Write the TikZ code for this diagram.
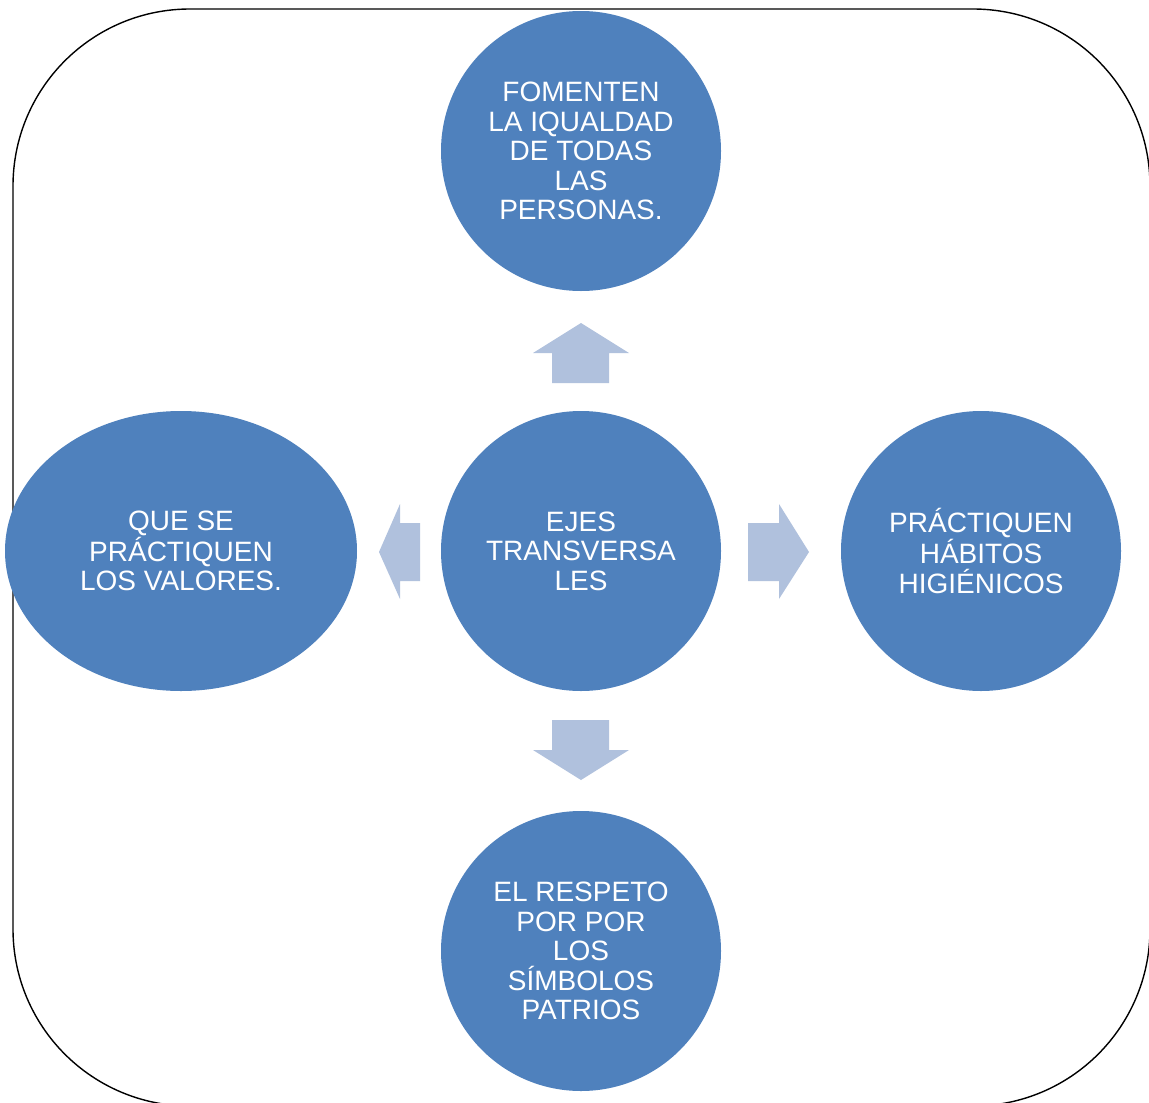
\documentclass[tikz,border=0pt]{standalone}
\usepackage{fontspec}
\setmainfont{Liberation Sans}
\usetikzlibrary{shapes.geometric}
\definecolor{circblue}{HTML}{4F81BD}
\definecolor{arrblue}{HTML}{B0C1DD}
\tikzset{
  bubble/.style={circle, fill=circblue, minimum size=280pt, inner sep=0pt, text=white, align=center, font=\fontsize{28}{29.5}\selectfont},
  oval/.style={ellipse, fill=circblue, minimum width=352pt, minimum height=280pt, inner sep=0pt, text=white, align=center, font=\fontsize{28}{29.5}\selectfont},
  blockarrow/.style={fill=arrblue, draw=none},
  frame/.style={draw=black, line width=1.4pt, rounded corners=177pt}
}
\begin{document}
\begin{tikzpicture}[x=1pt, y=-1pt]
\useasboundingbox (0,0) rectangle (1149,1103);
\fill[white] (0,0) rectangle (1149,1103);
\draw[frame] (13,9) rectangle (1150,1106);
\node[bubble] (top) at (581,151) {FOMENTEN\\LA IQUALDAD\\DE TODAS\\LAS\\PERSONAS.};
\node[bubble] (center) at (581,551) {EJES\\TRANSVERSA\\LES};
\node[bubble] (right) at (981,551) {PRÁCTIQUEN\\HÁBITOS\\HIGIÉNICOS};
\node[oval] (left) at (181,551) {QUE SE\\PRÁCTIQUEN\\LOS VALORES.};
\node[bubble] (bottom) at (581,951) {EL RESPETO\\POR POR\\LOS\\SÍMBOLOS\\PATRIOS};
% up arrow
\fill[blockarrow] (552,383) -- (552,353) -- (533,353) -- (581,323) -- (629,353) -- (609,353) -- (609,383) -- cycle;
% down arrow
\fill[blockarrow] (552,720) -- (552,750) -- (533,750) -- (581,780) -- (629,750) -- (609,750) -- (609,720) -- cycle;
% right arrow
\fill[blockarrow] (748,523) -- (779,523) -- (779,504) -- (809,552) -- (779,599) -- (779,581) -- (748,581) -- cycle;
% left arrow
\fill[blockarrow] (420,523) -- (400,523) -- (400,504) -- (379,552) -- (400,599) -- (400,581) -- (420,581) -- cycle;
\end{tikzpicture}
\end{document}
